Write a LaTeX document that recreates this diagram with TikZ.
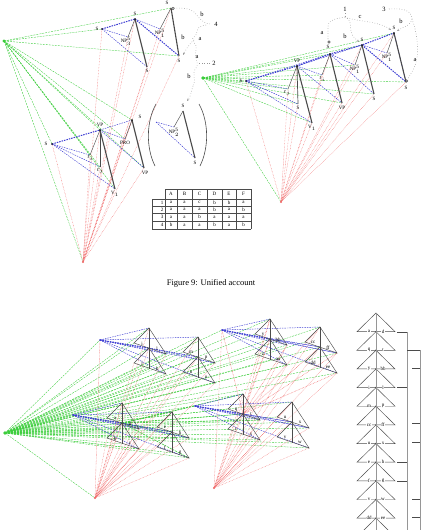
\documentclass[tikz,border=0pt]{standalone}
\usepackage{fontspec}
\setmainfont{Liberation Serif}
\usetikzlibrary{arrows.meta,calc}
\definecolor{gline}{RGB}{60,205,60}
\definecolor{bline}{RGB}{60,60,210}
\definecolor{rline}{RGB}{240,110,110}
\definecolor{tline}{RGB}{75,75,75}
\definecolor{aline}{RGB}{150,150,150}
\tikzset{
 gl/.style={gline, dash pattern=on 2pt off 1pt, line width=0.35pt},
 bl/.style={bline, dash pattern=on 1.5pt off 1pt, line width=0.45pt},
 blk/.style={bl, line width=1pt},
 rl/.style={rline, dash pattern=on 0.6pt off 0.9pt, line width=0.35pt},
 tk/.style={tline, line width=1.1pt},
 tn/.style={tline, line width=0.45pt},
 lab/.style={font=\fontsize{5}{5}\selectfont, inner sep=0.4pt},
 alab/.style={font=\fontsize{6.5}{6.5}\selectfont, inner sep=0.4pt},
 ann/.style={aline, dotted, line width=0.55pt},
 annar/.style={ann, -{Stealth[length=2.5pt,width=2pt]}},
 colt/.style={aline, line width=0.9pt},
}
\newcommand{\tunit}[3]{%
 \coordinate (#1A) at (#2,#3);
 \coordinate (#1C) at (#2,#3+20);
 \coordinate (#1D) at (#2,#3+41);
 \coordinate (#1L) at (#2-15,#3+15);
 \coordinate (#1R) at (#2+17,#3+26);
 \coordinate (#1l) at (#2-15,#3+35);
 \coordinate (#1r) at (#2+17,#3+46);
}
\newcommand{\tdraw}[7]{%
 \draw[tn] (#1L) -- (#1A) -- (#1R) -- cycle;
 \draw[tn] (#1l) -- (#1C) -- (#1r) -- cycle;
 \draw[tn, line width=0.6pt] (#1A) -- (#1D);
 \node[lab] (#1t1) at (#2-7,#3+15.5) {#4};
 \node[lab] (#1t2) at (#2+8,#3+20.5) {#5};
 \node[lab] (#1t3) at (#2-7,#3+35.5) {#6};
 \node[lab] (#1t4) at (#2+8,#3+40.5) {#7};
}
\begin{document}
\begin{tikzpicture}[x=1pt,y=-1pt]
\useasboundingbox (0,0) rectangle (422,530);
\clip (0,0) rectangle (422,530);

% ================= TOP LEFT =================
\coordinate (G1) at (4,41);
\coordinate (R1) at (83,262);
\coordinate (a1) at (171,8);
\coordinate (b1) at (135,19);
\coordinate (c1) at (102,29);
\coordinate (np1) at (128,37);
\coordinate (np2) at (160,29);
\coordinate (d1) at (147,67);
\coordinate (e1) at (179,56);
\coordinate (s2) at (132,120);
\coordinate (vp2) at (100,130);
\coordinate (s3) at (52,144);
\coordinate (ti) at (90,155);
\coordinate (tj) at (100,167);
\coordinate (v1) at (115,189);
\coordinate (pro) at (125,139);
\coordinate (vp3) at (144,168);
\coordinate (s4) at (183,111);
\coordinate (np4) at (174,127);
\coordinate (s5) at (195,158);
\coordinate (pq) at (156,122);

\foreach \p in {a1,c1,e1,s2,vp2,s3,ti,tj,v1,pro,vp3,R1}
  \draw[gl] (G1) -- (\p);
\foreach \p in {a1,b1,c1,np1,np2,d1,e1,s2,vp2,s3,ti,tj,v1,pro,vp3}
  \draw[rl] (R1) -- (\p);
\draw[blk] (c1) -- (b1);
\draw[blk] (b1) -- (e1);
\foreach \p in {np1,d1} \draw[bl] (c1) -- (\p);
\draw[bl] (b1) -- (np2);
\draw[blk] (s3) -- (vp2);
\foreach \p in {ti,tj,v1} \draw[bl] (s3) -- (\p);
\foreach \p in {s2,pro,vp3} \draw[bl] (vp2) -- (\p);
\foreach \p in {np4,s5} \draw[bl] (pq) -- (\p);
\draw[tk] (b1) -- (d1);
\draw[tk] (a1) -- (e1);
\draw[tn] (b1) -- (np1);
\draw[tn] (a1) -- (np2);
\draw[tk] (vp2) -- (v1);
\draw[tk] (s2) -- (vp3);
\draw[tn] (vp2) -- (ti);
\draw[tn] (vp2) -- (tj);
\draw[tn] (s2) -- (pro);
\draw[tk] (s4) -- (s5);
\draw[tn] (s4) -- (np4);
\fill[gline] (G1) circle (1.6);
\fill[rline] (R1) circle (1.2);
\foreach \p in {b1,c1,s2,vp2,s3} \fill[black] (\p) circle (0.9);

\node[lab] (la1) at (167,3) {S};
\draw[tn] (173,8.5) circle (1.3);
\node[lab] (lb1) at (135,14) {S};
\node[lab] (lc1) at (97,29) {S};
\node[lab] (lnp1) at (126,41) {NP$^5_3$};
\node[lab] (lnp2) at (160,33) {NP$^5_1$};
\node[lab] (ld1) at (147,71) {S};
\node[lab] (le1) at (179,61) {S};
\node[lab] (ls2) at (140,117) {S};
\node[lab] (lvp2) at (100,125) {VP};
\node[lab] (ls3) at (46,144) {S};
\node[lab] (lti) at (90,158) {$t_i$};
\node[lab] (ltj) at (100,171) {$t_j$};
\node[lab] (lv1) at (115,194) {V$_1$};
\node[lab] (lpro) at (125,143) {PRO};
\node[lab] (lvp3) at (145,173) {VP};
\node[lab] (ls4) at (183,106) {S};
\node[lab] (lnp4) at (174,132) {NP$^5_2$};
\node[lab] (ls5) at (195,163) {S};
% parentheses
\draw[tn, line width=0.6pt] (156,104) .. controls (146,122) and (146,148) .. (155,166);
\draw[tn, line width=0.6pt] (199,104) .. controls (209,122) and (209,148) .. (200,166);

% annotations top-left
\draw[ann] (174,8) .. controls (186,8) and (190,9) .. (194,12) .. controls (199,17) and (202,24) .. (211,24);
\node[alab] (an4) at (216,24) {4};
\node[alab] (anb1) at (202,14) {b};
\draw[ann] (206,25) .. controls (192,27) and (200,34) .. (194,37) .. controls (189,41) and (199,44) .. (196,50)
   .. controls (193,56) and (200,62) .. (196,68) .. controls (191,74) and (197,80) .. (193,86);
\draw[annar] (193,86) .. controls (191,92) and (191,96) .. (187,101);
\draw[annar] (194,40) .. controls (188,45) and (186,50) .. (183,55);
\draw[ann] (210,63) -- (198,63);
\node[alab] (an2) at (214,63) {2};
\node[alab] (ana1) at (200,39) {a};
\node[alab] (anb2) at (183,37) {b};
\node[alab] (ana2) at (197,57) {a};
\node[alab] (anb3) at (189,76) {b};

% ================= TOP RIGHT =================
\coordinate (G2) at (203,78);
\coordinate (R2) at (281,202);
\coordinate (sA) at (246,81);
\coordinate (vpA) at (297,66);
\coordinate (sB) at (330,54);
\coordinate (sC) at (362,45);
\coordinate (sD) at (394,33);
\coordinate (npC) at (355,65);
\coordinate (npD) at (387,53);
\coordinate (tA) at (288,89);
\coordinate (tB) at (322,75);
\coordinate (sE) at (298,104);
\coordinate (v1A) at (312,123);
\coordinate (vpB) at (342,103);
\coordinate (sF) at (374,94);
\coordinate (sG) at (406,82);

\foreach \p in {sA,vpA,sB,sC,sD,tA,tB,sE,v1A,vpB,sF,sG,npC,R2}
  \draw[gl] (G2) -- (\p);
\foreach \p in {sA,vpA,sB,sC,sD,tA,tB,sE,v1A,vpB,sF,sG,npC,npD}
  \draw[rl] (R2) -- (\p);
\draw[blk] (sA) -- (vpA) -- (sB) -- (sC) -- (sD);
\draw[blk] (sC) -- (sG);
\foreach \p in {tA,sE,v1A,sB} \draw[bl] (sA) -- (\p);
\foreach \p in {tB,vpB,sC} \draw[bl] (vpA) -- (\p);
\foreach \p in {npC,sF} \draw[bl] (sB) -- (\p);
\draw[bl] (sC) -- (npD);
\draw[bl] (sD) -- (sG);
\draw[tn, line width=0.7pt] (vpA) -- (sE);
\draw[tk] (vpA) -- (v1A);
\draw[tn] (vpA) -- (tA);
\draw[tk] (sB) -- (vpB);
\draw[tn] (sB) -- (tB);
\draw[tk] (sC) -- (sF);
\draw[tn] (sC) -- (npC);
\draw[tk] (sD) -- (sG);
\draw[tn] (sD) -- (npD);
\fill[gline] (G2) circle (1.8);
\fill[rline] (R2) circle (1.2);
\foreach \p in {sA,vpA,sB,sC,sD} \fill[black] (\p) circle (0.9);

\node[lab] (lsA) at (241,81) {S};
\node[lab] (lvpA) at (297,61) {VP};
\node[lab] (lsB) at (328,47) {S};
\node[lab] (lsC) at (362,40) {S};
\node[lab] (lsD) at (394,28) {S};
\node[lab] (lnpC) at (355,69) {NP$^5_1$};
\node[lab] (lnpD) at (387,57) {NP$^5_1$};
\node[lab] (ltA) at (287,93) {$t_j$};
\node[lab] (ltB) at (322,79) {$t_i$};
\node[lab] (lsE) at (298,108) {S};
\node[lab] (lv1A) at (312,128) {V$_1$};
\node[lab] (lvpB) at (342,108) {VP};
\node[lab] (lsF) at (374,99) {S};
\node[lab] (lsG) at (406,88) {S};

% annotations top-right
\node[alab] (an1) at (345,9) {1};
\node[alab] (an3) at (384,9) {3};
\draw[ann] (345,13) -- (345,17);
\draw[ann] (345,17) .. controls (336,19) and (328,19) .. (328,27) -- (328,40);
\draw[tn] (329,42) circle (1.2);
\draw[annar] (345,17) .. controls (352,20) and (350,26) .. (351,31) .. controls (352,37) and (356,39) .. (359,42);
\draw[annar] (347,18) .. controls (364,22) and (380,22) .. (391,30);
\draw[ann] (389,9) .. controls (402,8) and (412,10) .. (412,19);
\draw[annar] (412,19) .. controls (412,25) and (403,27) .. (397,31);
\draw[ann] (412,19) .. controls (419,38) and (419,58) .. (414,68) .. controls (411,74) and (409,77) .. (407,80);
\draw[tn] (406.5,81) circle (1.2);
\node[alab] (anc) at (360,17) {c};
\node[alab] (ana3) at (322,33) {a};
\node[alab] (anb4) at (345,36) {b};
\node[alab] (anb5) at (401,21) {b};
\node[alab] (ana4) at (415,60) {a};

% table
\begin{scope}[tn, line width=0.5pt]
\draw (165,189) -- (251,189);
\draw (152,199) -- (251,199);
\foreach \y in {206,213,221,229} \draw (152,\y) -- (251,\y);
\draw (152,199) -- (152,229);
\foreach \x in {165,177,192,207,222,236,251} \draw (\x,189) -- (\x,229);
\end{scope}
\node[lab] (hA) at (171,194) {A};
\node[lab] (hB) at (184.5,194) {B};
\node[lab] (hC) at (199.5,194) {C};
\node[lab] (hD) at (214.5,194) {D};
\node[lab] (hE) at (229,194) {E};
\node[lab] (hF) at (243.5,194) {F};
\foreach \r/\y in {1/202.5,2/209.5,3/217,4/225}
  \node[lab, anchor=east] (rn\r) at (164,\y) {\r};
\foreach \xx/\v [count=\k] in {171/a,184.5/a,199.5/c,214.5/b,229/b,243.5/a} \node[lab] (ta\k) at (\xx,202.5) {\v};
\foreach \xx/\v [count=\k] in {171/a,184.5/a,199.5/a,214.5/b,229/a,243.5/b} \node[lab] (tb\k) at (\xx,209.5) {\v};
\foreach \xx/\v [count=\k] in {171/a,184.5/a,199.5/b,214.5/a,229/a,243.5/a} \node[lab] (tc\k) at (\xx,217) {\v};
\foreach \xx/\v [count=\k] in {171/b,184.5/a,199.5/a,214.5/b,229/a,243.5/b} \node[lab] (td\k) at (\xx,225) {\v};

% caption
\node[font=\fontsize{8.5}{9}\selectfont] (cap) at (211,283) {Figure 9: Unified account};

% ================= BOTTOM =================
\coordinate (G3) at (5,433);
\coordinate (R3) at (95,498);
\coordinate (R4) at (214,488);
\coordinate (P1) at (100,340);
\coordinate (P2) at (222,330);
\coordinate (P3) at (73,415);
\coordinate (P4) at (195,406);
\tunit{U1}{149}{328}
\tunit{U2}{198}{337}
\tunit{U3}{270}{319}
\tunit{U4}{320}{327}
\tunit{U5}{122}{403}
\tunit{U6}{172}{412}
\tunit{U7}{243}{394}
\tunit{U8}{292}{402}

% green fan
\foreach \u in {U1,U2,U3,U4,U5,U6,U7,U8}
  \foreach \q in {A,C,R,r,L,D}
    \draw[gl] (G3) -- (\u\q);
\foreach \p in {P1,P2,P3,P4,R3} \draw[gl] (G3) -- (\p);
\foreach \p in {U6A,U6C,U6R,U6r,P4,U7A,U7C,U7R} \draw[gl, line width=0.6pt] (U5C) -- (\p);
% red fans
\foreach \u in {U1,U2,U5,U6}
  \foreach \q in {A,C,R,r,l}
    \draw[rl] (R3) -- (\u\q);
\draw[rl] (R3) -- (P1);
\foreach \u in {U3,U4,U7,U8}
  \foreach \q in {A,C,R,r}
    \draw[rl] (R4) -- (\u\q);
\draw[rl] (R4) -- (P2);
\foreach \p in {U3A,U3C,U3R,U4A,U4C,U4R,U4r,P2} \draw[rl, line width=0.5pt] (U7C) -- (\p);
\fill[rline] (U7C) circle (1.4);
\fill[gline] (U5C) circle (1.6);
% blue fans
\foreach \g/\a/\b in {P1/U1/U2,P2/U3/U4,P3/U5/U6,P4/U7/U8} {
  \foreach \q in {A,R,r} \draw[bl] (\g) -- (\a\q);
  \draw[blk] (\g) -- (\a C);
  \foreach \q in {A,C,R,r} \draw[bl] (\g) -- (\b\q);
  \draw[bl] (\a C) -- (\b C);
  \draw[bl] (\a C) -- (\b R);
}
\fill[gline] (G3) circle (1.8);
\fill[rline] (R3) circle (1.2);
\fill[rline] (R4) circle (1.2);
\foreach \p in {P1,P2,P3,P4} \fill[bline] (\p) circle (0.9);
% trees
\tdraw{U1}{149}{328}{i}{l}{j}{k}
\tdraw{U2}{198}{337}{m}{p}{n}{o}
\tdraw{U3}{270}{319}{y}{bb}{z}{aa}
\tdraw{U4}{320}{327}{cc}{ff}{dd}{ee}
\tdraw{U5}{122}{403}{a}{d}{b}{c}
\tdraw{U6}{172}{412}{e}{h}{f}{g}
\tdraw{U7}{243}{394}{q}{t}{r}{s}
\tdraw{U8}{292}{402}{u}{x}{v}{w}

% ================= RIGHT COLUMN =================
\foreach \lft/\rgt [count=\i from 0] in {a/d,q/t,y/bb,i/l,m/p,cc/ff,u/x,e/h,f/g,v/w,dd/ee,{}/{}} {
  \pgfmathsetmacro{\ty}{313+18.65*\i}
  \pgfmathsetmacro{\by}{313+18.65*(\i+1)}
  \coordinate (K\i a) at (376,\ty);
  \coordinate (K\i l) at (357,\by);
  \coordinate (K\i r) at (395,\by);
  \draw[tn] (K\i l) -- (K\i a) -- (K\i r) -- cycle;
  \fill[tline] (376,\by) circle (0.9);
  \node[lab, fill=white] (K\i t1) at (369,\by) {\lft};
  \node[lab, fill=white] (K\i t2) at (383,\by) {\rgt};
}
\draw[colt] (K0a) -- (376,530);
\draw[colt] (407,332) -- (407,530);
\draw[colt] (420,350) -- (420,530);
\draw[tn] (397,332) -- (407,332);
\draw[tn] (407,350) -- (420,350);
\foreach \y in {387,462,481} \draw[tn] (397,\y) -- (407,\y);
\foreach \y in {368,423,442,499,517} \draw[tn] (412,\y) -- (420,\y);
\end{tikzpicture}
\end{document}
